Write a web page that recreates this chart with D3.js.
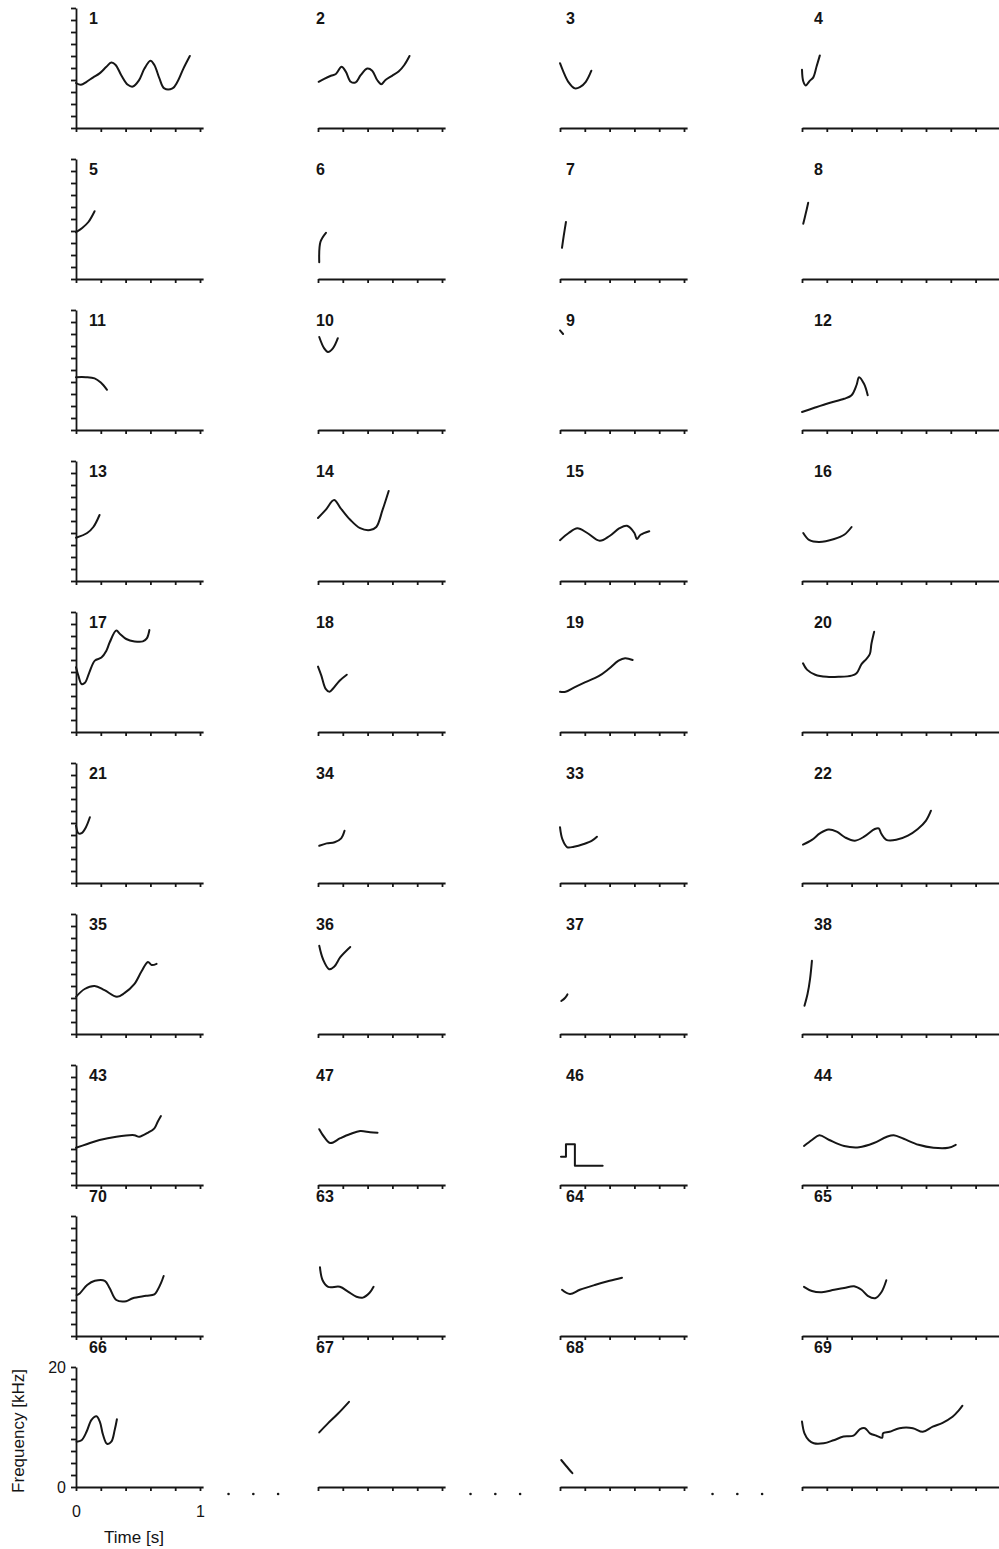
<!DOCTYPE html>
<html>
<head>
<meta charset="utf-8">
<script src="https://cdn.jsdelivr.net/npm/d3@7"></script>
<style>
  html, body { margin: 0; padding: 0; background: #fff; }
  svg { display: block; }
  text { font-family: "Liberation Sans", Arial, Helvetica, sans-serif; fill: #141414; }
</style>
</head>
<body>
<svg id="chart" width="999" height="1549"></svg>
<script>
// ---- tick values -------------------------------------------------------
const timeTicks = [0, 0.2, 0.4, 0.6, 0.8, 1.0];
const longTimeTicks = [0, 0.2, 0.4, 0.6, 0.8, 1.0, 1.2, 1.4, 1.6];
const freqTicks = [0, 2, 4, 6, 8, 10, 12, 14, 16, 18, 20];
const freqLabels = [0, 20];
const timeLabels = [0, 1];

// ---- panel numbering, row by row -----------------------------------------
const panelRows = [
  [1, 2, 3, 4],
  [5, 6, 7, 8],
  [11, 10, 9, 12],
  [13, 14, 15, 16],
  [17, 18, 19, 20],
  [21, 34, 33, 22],
  [35, 36, 37, 38],
  [43, 47, 46, 44],
  [70, 63, 64, 65],
  [66, 67, 68, 69]
];

// ---- whistle contours: [time (s), frequency (kHz)] ------------------------
const w1 = [[0,7.5],[0.04,7.2],[0.085,7.7],[0.139,8.45],[0.19,9.1],[0.245,10.2],[0.285,10.9],[0.32,10.5],[0.365,8.8],[0.418,7.2],[0.458,6.9],[0.506,7.9],[0.552,9.9],[0.6,11.2],[0.632,10.5],[0.672,8.3],[0.712,6.6],[0.778,6.6],[0.818,7.7],[0.866,9.9],[0.918,12]];
const w2 = [[0.005,7.7],[0.05,8.2],[0.104,8.7],[0.144,9],[0.19,10.2],[0.224,9.4],[0.264,7.7],[0.304,7.6],[0.344,8.8],[0.397,9.9],[0.437,9.55],[0.477,8],[0.51,7.3],[0.544,8],[0.597,8.7],[0.65,9.4],[0.696,10.5],[0.738,12]];
const w3 = [[0,10.8],[0.027,9.4],[0.067,7.7],[0.12,6.6],[0.16,6.8],[0.208,7.7],[0.253,9.55]];
const w4 = [[0,9.7],[0.01,7.8],[0.03,7.1],[0.064,7.9],[0.09,8.4],[0.118,10.3],[0.144,12.1]];
const w5 = [[0,7.8],[0.05,8.5],[0.1,9.5],[0.15,11.3]];
const w6 = [[0.01,2.8],[0.02,6.2],[0.064,7.7]];
const w7 = [[0.016,5.2],[0.03,7.2],[0.048,9.5]];
const w8 = [[0.01,9.2],[0.03,10.9],[0.05,12.7]];
const w11 = [[0,8.8],[0.08,8.8],[0.15,8.6],[0.2,7.9],[0.25,6.7]];
const w10 = [[0.01,15.5],[0.05,13.6],[0.08,13],[0.12,13.6],[0.16,15.3]];
const w9 = [[0,16.6],[0.025,16]];
const w12 = [[0,3],[0.1,3.7],[0.22,4.5],[0.34,5.2],[0.4,5.8],[0.44,7.5],[0.46,8.8],[0.5,7.7],[0.53,5.8]];
const w13 = [[0,7.2],[0.09,8],[0.14,9],[0.19,11]];
const w14 = [[0,10.5],[0.06,11.8],[0.13,13.5],[0.18,12.2],[0.26,10.2],[0.34,8.8],[0.42,8.5],[0.47,9],[0.52,11.8],[0.57,15]];
const w15 = [[0,6.8],[0.07,8],[0.14,8.8],[0.22,8],[0.32,6.7],[0.4,7.5],[0.48,8.8],[0.54,9.2],[0.6,8],[0.62,7],[0.65,7.7],[0.72,8.3]];
const w16 = [[0.01,8],[0.06,6.8],[0.14,6.5],[0.26,7],[0.34,7.7],[0.4,9]];
const w17 = [[0,10.8],[0.019,9.4],[0.045,8],[0.072,8.2],[0.107,9.9],[0.152,11.9],[0.205,12.4],[0.245,13.55],[0.272,14.95],[0.325,16.9],[0.357,16.3],[0.405,15.5],[0.472,15.1],[0.539,15.1],[0.571,15.6],[0.592,17]];
const w18 = [[0,10.9],[0.027,9.4],[0.062,7.2],[0.094,6.7],[0.12,7.2],[0.174,8.55],[0.232,9.55]];
const w19 = [[0,6.7],[0.045,6.7],[0.112,7.4],[0.205,8.3],[0.312,9.3],[0.392,10.5],[0.472,11.9],[0.525,12.3],[0.586,12]];
const w20 = [[0.008,11.45],[0.04,10.4],[0.107,9.55],[0.2,9.2],[0.294,9.2],[0.4,9.4],[0.44,9.8],[0.48,11.3],[0.52,12.2],[0.547,13],[0.56,14.7],[0.582,16.7]];
const w21 = [[0,9.55],[0.019,8.3],[0.045,8.3],[0.08,9.3],[0.112,10.95]];
const w34 = [[0.01,6.2],[0.07,6.6],[0.134,6.8],[0.187,7.45],[0.214,8.7]];
const w33 = [[0,9.3],[0.019,7.3],[0.059,5.95],[0.112,6.05],[0.192,6.5],[0.258,7.05],[0.298,7.7]];
const w22 = [[0.008,6.4],[0.08,7.2],[0.147,8.3],[0.214,8.9],[0.28,8.55],[0.347,7.6],[0.427,7.05],[0.507,7.8],[0.587,9],[0.619,9.1],[0.64,8.2],[0.68,7.2],[0.76,7.2],[0.854,7.9],[0.934,9],[1.0,10.4],[1.04,12.05]];
const w35 = [[0,6.2],[0.07,7.5],[0.15,8],[0.23,7.3],[0.33,6.2],[0.39,6.8],[0.47,8.3],[0.53,10.5],[0.58,12],[0.61,11.5],[0.65,11.7]];
const w36 = [[0.01,14.7],[0.04,12.5],[0.09,10.8],[0.13,11.2],[0.18,12.8],[0.26,14.5]];
const w37 = [[0.01,5.5],[0.04,6],[0.06,6.6]];
const w38 = [[0.02,4.7],[0.045,6.7],[0.065,9.2],[0.08,12.2]];
const w43 = [[0,6.2],[0.085,6.8],[0.19,7.5],[0.325,8.05],[0.47,8.3],[0.51,8.05],[0.578,8.7],[0.632,9.45],[0.659,10.55],[0.685,11.5]];
const w47 = [[0.01,9.3],[0.05,8],[0.1,7],[0.18,7.8],[0.26,8.5],[0.34,9],[0.42,8.8],[0.48,8.7]];
const w46 = [[0.008,4.7],[0.048,4.7],[0.048,6.8],[0.12,6.8],[0.12,3.2],[0.344,3.2]];
const w44 = [[0.016,6.5],[0.08,7.5],[0.14,8.3],[0.22,7.5],[0.34,6.5],[0.46,6.3],[0.58,7],[0.68,8],[0.74,8.3],[0.82,7.7],[0.94,6.7],[1.06,6.2],[1.18,6.2],[1.24,6.7]];
const w70 = [[0.005,6.8],[0.03,7.1],[0.09,8.5],[0.152,9.2],[0.232,9.2],[0.272,7.95],[0.325,6],[0.405,5.8],[0.458,6.3],[0.565,6.7],[0.632,6.95],[0.659,7.7],[0.685,8.8],[0.707,10]];
const w63 = [[0.016,11.45],[0.037,9.3],[0.082,8.2],[0.176,8.2],[0.242,7.4],[0.31,6.55],[0.362,6.4],[0.416,7.2],[0.448,8.2]];
const w64 = [[0.016,7.7],[0.08,7],[0.16,7.7],[0.28,8.5],[0.4,9.2],[0.5,9.7]];
const w65 = [[0.016,8.2],[0.08,7.5],[0.16,7.3],[0.26,7.7],[0.34,8],[0.42,8.3],[0.48,7.7],[0.53,6.7],[0.59,6.3],[0.64,7.3],[0.68,9.3]];
const w66 = [[0.005,7.55],[0.045,7.8],[0.085,9.2],[0.125,11.2],[0.165,11.8],[0.192,10.9],[0.218,8.7],[0.25,7.2],[0.285,7.55],[0.312,9.5],[0.33,11.3]];
const w67 = [[0.01,9.1],[0.08,10.6],[0.16,12.2],[0.25,14.2]];
const w68 = [[0.01,4.5],[0.05,3.5],[0.1,2.3]];
const w69 = [[0,10.9],[0.02,8.95],[0.055,7.8],[0.095,7.3],[0.175,7.3],[0.255,7.8],[0.335,8.4],[0.415,8.55],[0.468,9.65],[0.508,9.8],[0.548,8.95],[0.6,8.55],[0.646,8.2],[0.654,8.95],[0.706,9.2],[0.786,9.8],[0.894,9.8],[0.974,9.2],[1.054,10.05],[1.134,10.7],[1.214,11.7],[1.266,12.8],[1.294,13.55]];

const contours = {
  1: w1, 2: w2, 3: w3, 4: w4, 5: w5, 6: w6, 7: w7, 8: w8,
  9: w9, 10: w10, 11: w11, 12: w12, 13: w13, 14: w14, 15: w15, 16: w16,
  17: w17, 18: w18, 19: w19, 20: w20, 21: w21, 22: w22, 33: w33, 34: w34,
  35: w35, 36: w36, 37: w37, 38: w38, 43: w43, 44: w44, 46: w46, 47: w47,
  63: w63, 64: w64, 65: w65, 66: w66, 67: w67, 68: w68, 69: w69, 70: w70
};
// contours drawn with straight segments (stepped traces)
const steppedPanels = [46];

// ---- layout --------------------------------------------------------------
const svg = d3.select("#chart");
const ink = "#161616";
const colX = [76, 318, 560, 802];
const labelX = [89, 316, 566, 814];
const pxPerSecond = 124;
const panelHeight = 120;
const rowAxisY = d3.range(panelRows.length).map(i => 128 + 151 * i);

panelRows.forEach((row, r) => {
  const baseY = rowAxisY[r];
  const y = d3.scaleLinear().domain([0, 20]).range([baseY, baseY - panelHeight]);

  row.forEach((id, c) => {
    const x0 = colX[c];
    const isLong = c === 3;
    const tMax = isLong ? 1.7 : 1.025;
    const x = d3.scaleLinear().domain([0, tMax]).range([x0, x0 + tMax * pxPerSecond]);
    const g = svg.append("g");

    // time axis
    const isLabelled = r === panelRows.length - 1 && c === 0;
    const xAxis = d3.axisBottom(x)
      .tickValues(isLong ? longTimeTicks : timeTicks)
      .tickSize(4).tickSizeOuter(0).tickPadding(15)
      .tickFormat(d => (isLabelled && timeLabels.includes(d)) ? d3.format("d")(d) : "");
    const xa = g.append("g").attr("transform", `translate(0,${baseY})`).call(xAxis);
    xa.selectAll("path, line").attr("stroke", ink).attr("stroke-width", 1.8);
    xa.selectAll("text").attr("font-size", 16).attr("fill", ink)
      .style("font-family", '"Liberation Sans", Arial, sans-serif');

    // frequency axis on the first column
    if (c === 0) {
      const yAxis = d3.axisLeft(y)
        .tickValues(freqTicks)
        .tickSize(5).tickSizeOuter(0).tickPadding(5)
        .tickFormat(d => (isLabelled && freqLabels.includes(d)) ? d : "");
      const ya = g.append("g").attr("transform", `translate(${x0},0)`).call(yAxis);
      ya.selectAll("path, line").attr("stroke", ink).attr("stroke-width", 1.8);
      ya.selectAll("text").attr("font-size", 16).attr("fill", ink)
        .style("font-family", '"Liberation Sans", Arial, sans-serif');
    }

    // panel number
    const labelY = r >= 8 ? rowAxisY[r - 1] + 17 : baseY - 104;
    g.append("text")
      .attr("x", labelX[c]).attr("y", labelY)
      .attr("font-size", 16).attr("font-weight", "bold")
      .text(id);

    // whistle contour
    const line = d3.line()
      .x(d => x(d[0])).y(d => y(d[1]))
      .curve(steppedPanels.includes(id) ? d3.curveLinear : d3.curveCatmullRom.alpha(0.5));
    g.append("path")
      .datum(contours[id])
      .attr("d", line)
      .attr("fill", "none")
      .attr("stroke", ink)
      .attr("stroke-width", 2)
      .attr("stroke-linejoin", "round")
      .attr("stroke-linecap", "round");
  });
});

// continuation dots between the bottom-row panels
const lastY = rowAxisY[rowAxisY.length - 1];
const dotTimes = [1.23, 1.43, 1.63];
[0, 1, 2].forEach(c => {
  dotTimes.forEach(t => {
    svg.append("circle")
      .attr("cx", colX[c] + t * pxPerSecond)
      .attr("cy", lastY + 7)
      .attr("r", 1.3)
      .attr("fill", ink);
  });
});

// axis titles
svg.append("text")
  .attr("x", 134).attr("y", 1543)
  .attr("text-anchor", "middle")
  .attr("font-size", 17)
  .text("Time [s]");

svg.append("text")
  .attr("transform", "translate(24,1431) rotate(-90)")
  .attr("text-anchor", "middle")
  .attr("font-size", 17)
  .text("Frequency [kHz]");
</script>
</body>
</html>
